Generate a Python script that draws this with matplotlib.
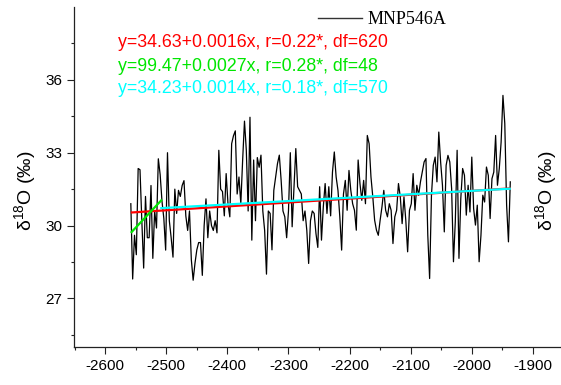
import numpy as np
import matplotlib
matplotlib.use("Agg")
import matplotlib.pyplot as plt
from matplotlib.ticker import FixedLocator, MultipleLocator

plt.rcParams["font.family"] = ["Liberation Sans", "DejaVu Sans"]
plt.rcParams["mathtext.fontset"] = "custom"
plt.rcParams["mathtext.rm"] = "Liberation Sans"
plt.rcParams["mathtext.it"] = "Liberation Sans:italic"
plt.rcParams["axes.unicode_minus"] = False

# ---- data -------------------------------------------------------------
series_name = "MNP546A"
years = np.arange(-2558, -1935, 3)          # sampling years (BC as negative)
d18o = [
    30.9, 27.8, 29.6, 28.8, 32.35, 32.3, 30.2, 28.25, 31.2, 29.5,
    29.5, 31.65, 28.65, 30.6, 29.9, 32.75, 32.1, 31.0, 30.3, 28.99,
    33.0, 30.2, 29.5, 28.7, 31.5, 30.5, 31.45, 31.2, 31.65, 31.85,
    30.4, 29.8, 30.6, 28.6, 27.75, 28.45, 29.0, 29.3, 29.3, 27.95,
    30.0, 31.1, 29.5, 30.6, 30.0, 29.8, 30.2, 29.7, 33.1, 31.5,
    31.4, 30.4,
    32.14, 30.9, 30.36, 33.37, 33.7, 33.9, 31.3, 32.0, 30.9, 32.7,
    34.3, 33.1, 30.6, 34.46, 29.4, 32.7, 30.2, 32.8, 32.4, 32.9,
    30.6, 29.8, 28.0, 30.6, 30.5, 29.0, 31.45, 32.0, 32.55, 32.9,
    31.86, 30.6, 30.36, 29.5, 30.6, 33.0, 29.95, 31.6, 33.17, 31.6,
    31.45, 31.3, 30.2, 30.6, 29.8, 28.44, 30.2, 30.6, 30.5, 29.67,
    29.1, 31.6,
    29.4, 30.77, 31.73, 30.5, 31.6, 30.4, 32.2, 33.03, 32.0, 31.45,
    30.36, 28.99, 31.3, 31.86, 30.63, 32.27, 31.45, 30.9, 30.63, 29.81,
    32.7, 31.73, 31.04, 31.86, 30.9, 33.71, 33.37, 32.0, 31.18, 30.22,
    29.81, 29.6, 30.22, 30.77, 31.45, 30.63, 30.36, 30.9, 30.63, 29.26,
    30.36, 30.63, 31.73, 31.18, 30.08, 31.18, 30.22, 28.92, 30.63, 30.9,
    32.14, 30.63,
    31.66, 31.25, 31.8, 32.2, 32.62, 32.76, 29.6, 27.82, 31.25, 32.48,
    32.82, 31.8, 33.85, 32.62, 31.66, 29.74, 32.48, 32.89, 32.62, 31.52,
    28.51, 30.15, 33.1, 28.65, 31.11, 32.35, 32.07, 30.43, 31.66, 30.56,
    32.82, 30.7, 30.02, 30.84, 28.51, 29.6, 31.25, 30.97, 32.41, 32.07,
    30.29, 31.93, 32.2, 33.71, 31.66, 32.35, 33.44, 35.36, 34.2, 30.84,
    29.33, 31.8,
]

# linear trends: (intercept, slope, start year, end year)
red_fit = (34.63, 0.0016, -2558, -1936)
cyan_fit = (34.23, 0.0014, -2510, -1936)
# early-segment trend, given by its end points
green_x = [-2558, -2507]
green_y = [29.7, 31.07]

trend_labels = [
    ("y=34.63+0.0016x, r=0.22*, df=620", "#ff0000"),
    ("y=99.47+0.0027x, r=0.28*, df=48", "#00e600"),
    ("y=34.23+0.0014x, r=0.18*, df=570", "#00ffff"),
]

x_major = [-2600, -2500, -2400, -2300, -2200, -2100, -2000, -1900]
y_major = [27, 30, 33, 36]
y_minor = [25.5, 28.5, 31.5, 34.5, 37.5]

# ---- figure -----------------------------------------------------------
W, H = 561, 385
fig = plt.figure(figsize=(W / 100, H / 100), dpi=100)
ax = fig.add_axes([74 / W, 1 - 347 / H, 1 - 74 / W, (347 - 7) / H])

ax.plot(years, d18o, color="black", lw=0.9, label=series_name)

def fit_line(fit):
    a, b, x0, x1 = fit
    xs = np.array([x0, x1])
    return xs, a + b * xs

xr, yr = fit_line(red_fit)
ax.plot(xr, yr, color="#ff0000", lw=1.6, solid_capstyle="butt")
xc, yc = fit_line(cyan_fit)
ax.plot(xc, yc, color="#00ffff", lw=1.6, solid_capstyle="butt")
ax.plot(green_x, green_y, color="#00e600", lw=1.6, solid_capstyle="butt")

ax.set_xlim(-2651, -1854)
ax.set_ylim(25, 39)

for side in ("top", "right"):
    ax.spines[side].set_visible(False)
for side in ("left", "bottom"):
    ax.spines[side].set_linewidth(0.9)
    ax.spines[side].set_color("#222222")

ax.xaxis.set_major_locator(FixedLocator(x_major))
ax.xaxis.set_minor_locator(MultipleLocator(50))
ax.yaxis.set_major_locator(FixedLocator(y_major))
ax.yaxis.set_minor_locator(FixedLocator(y_minor))
ax.tick_params(which="major", direction="out", length=5, width=0.8,
               labelsize=11, pad=3.5, color="#222222")
ax.tick_params(which="minor", direction="out", length=2.5, width=0.8,
               color="#222222")

# equations of the trend lines
for i, (txt, col) in enumerate(trend_labels):
    base = [47.3, 70.7, 92.7][i]
    fig.text(118 / W, 1 - base / H, txt, color=col, fontsize=12.8,
             ha="left", va="baseline")

# legend
leg = ax.legend(loc="center left", bbox_to_anchor=(318 / W, 1 - 20 / H),
                bbox_transform=fig.transFigure, frameon=False,
                borderpad=0, borderaxespad=0, handlelength=2.45,
                handletextpad=0.28,
                prop={"family": "Liberation Serif", "size": 13})
for h in leg.get_lines():
    h.set_linewidth(1.0)
    h.set_color("#333333")

ylabel = r"δ$^{18}$O (‰)"
fig.text(25 / W, 1 - 191 / H, ylabel, rotation=90, fontsize=14,
         ha="center", va="center")
fig.text(546 / W, 1 - 191 / H, ylabel, rotation=90, fontsize=14,
         ha="center", va="center")

fig.savefig("out.png", dpi=100)
